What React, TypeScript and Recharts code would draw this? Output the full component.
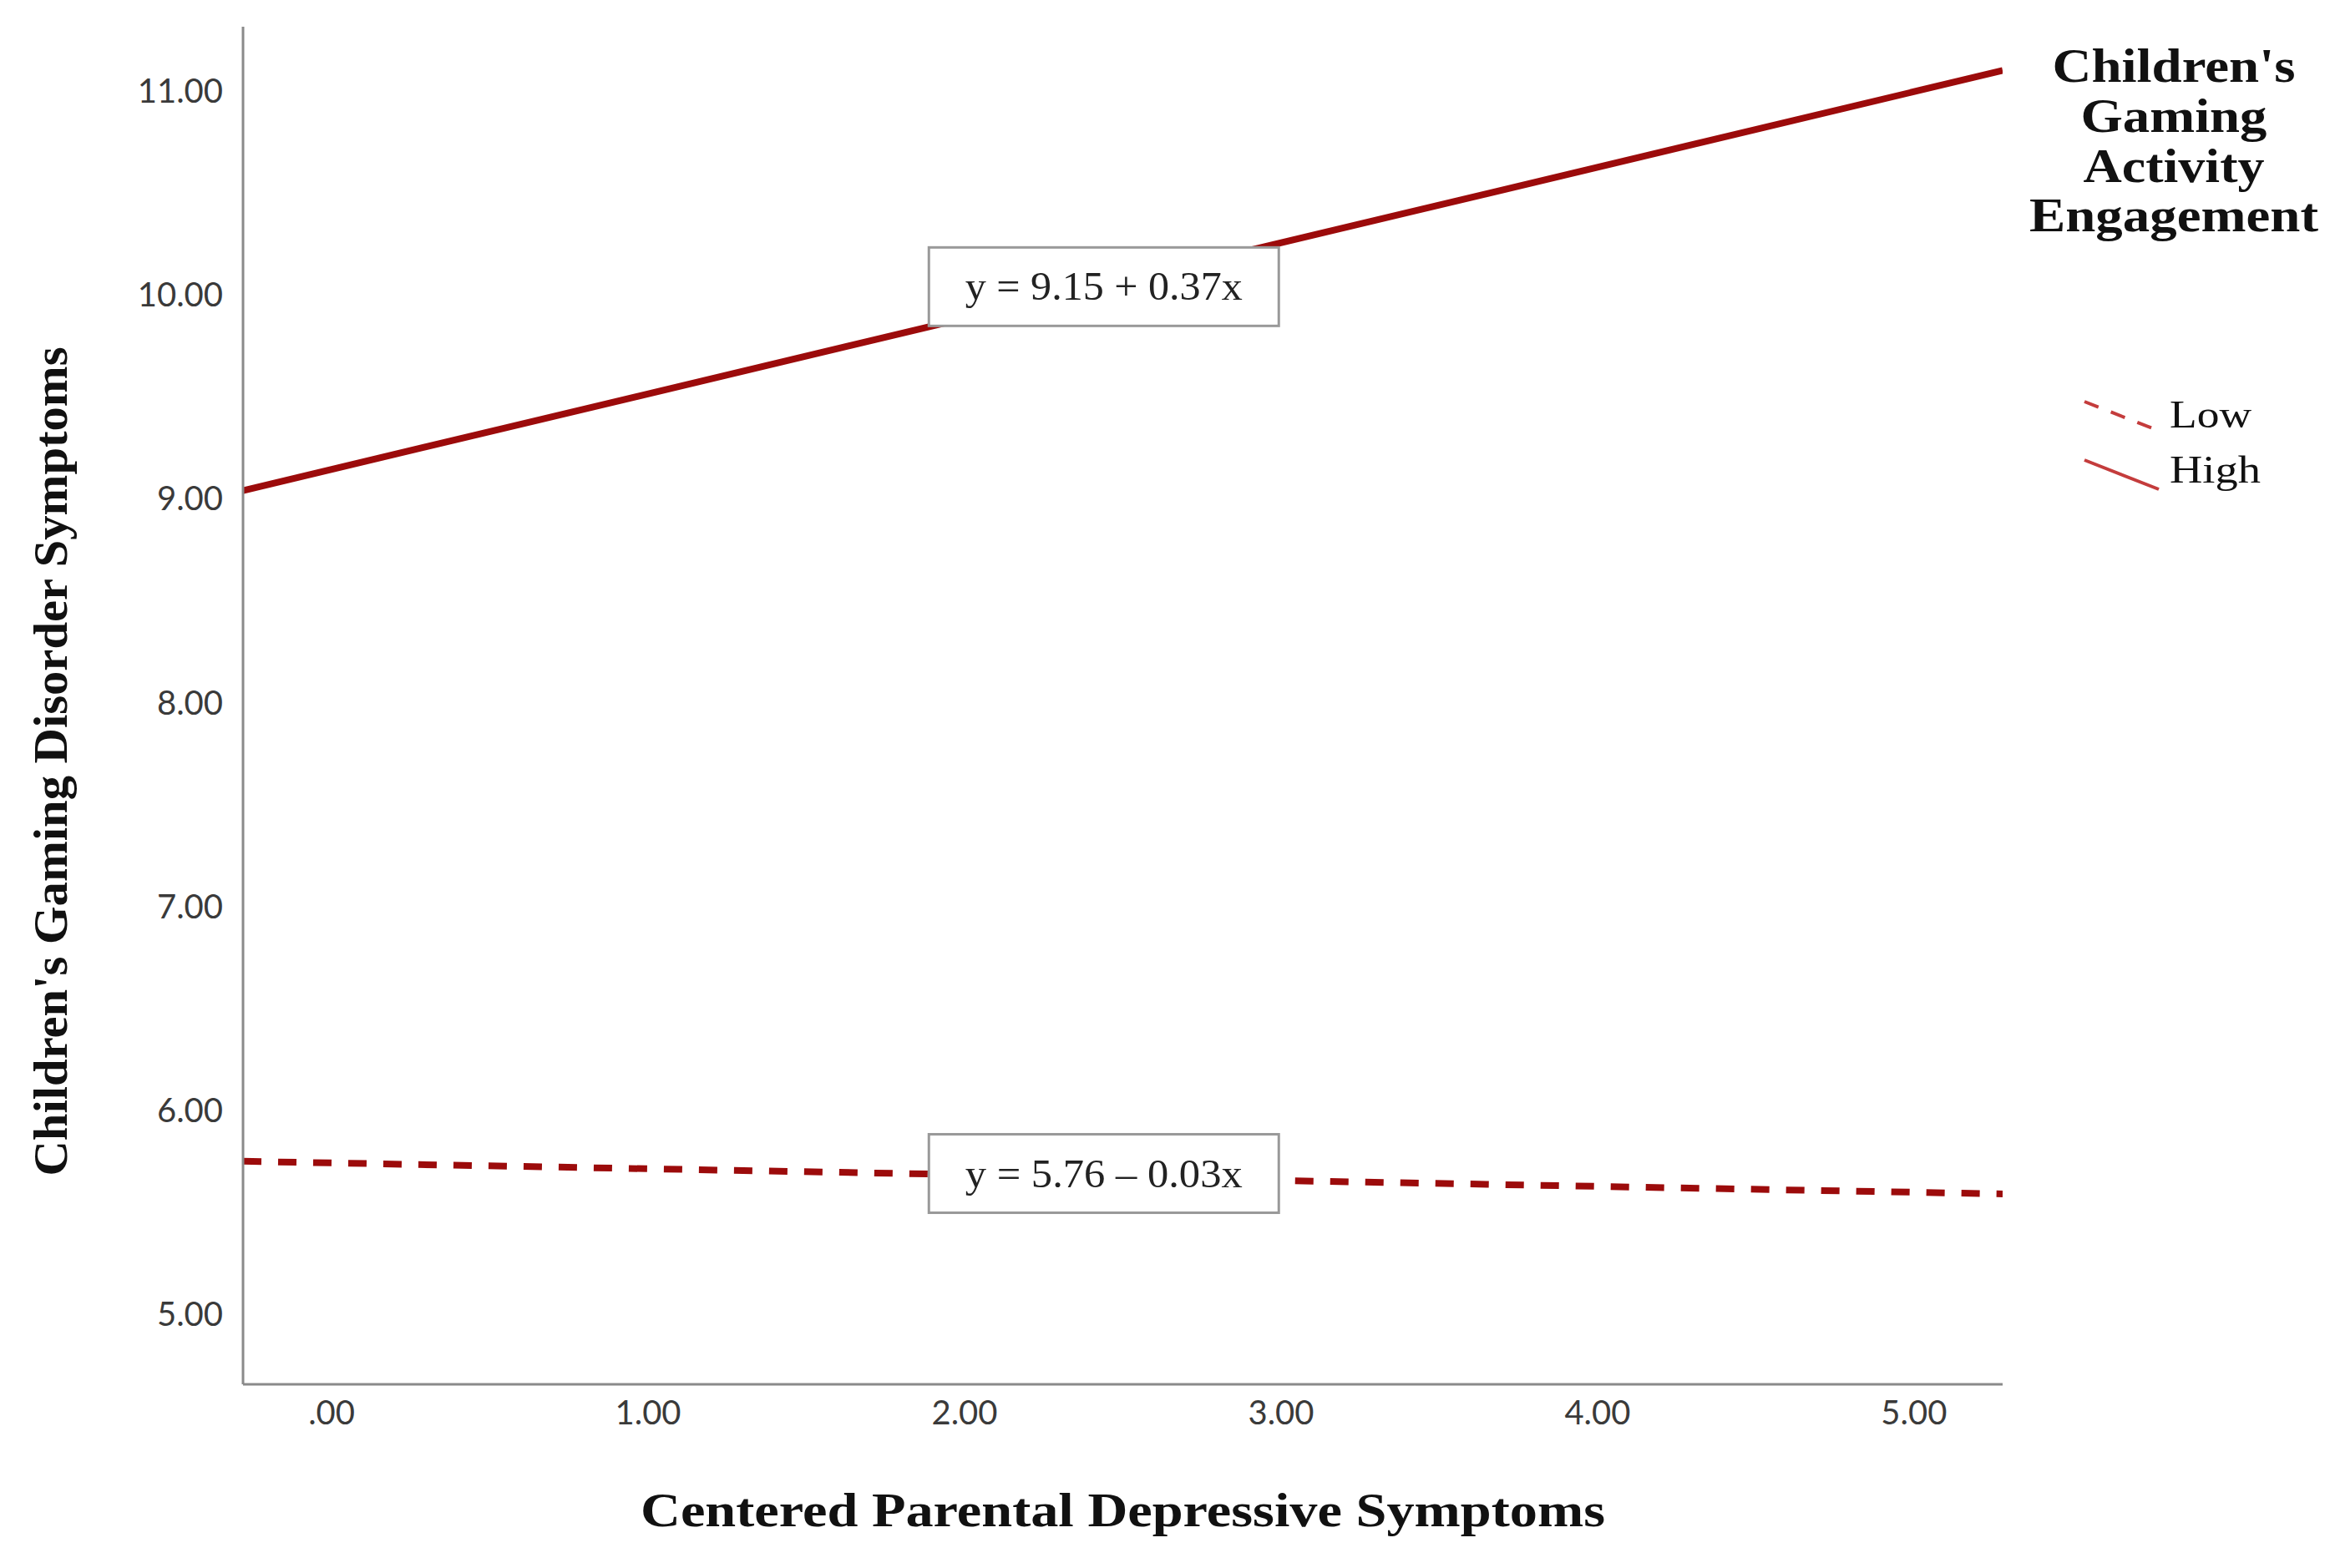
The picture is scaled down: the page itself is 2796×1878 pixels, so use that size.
import React from 'react';
import { ComposedChart, Line, XAxis, YAxis, ReferenceDot, Legend, Label } from 'recharts';

// ---- data ----
const xValues = [-0.28, 5.28];
const lowValues = [5.75, 5.59];
const highValues = [9.04, 11.1];
const seriesNames = ['Low', 'High'];
const xTicks = [0, 1, 2, 3, 4, 5];
const yTicks = [5, 6, 7, 8, 9, 10, 11];
const xDomain = [-0.28, 5.28];
const yDomain = [4.656, 11.315];
const eqLabels = ['y = 9.15 + 0.37x', 'y = 5.76 \u2013 0.03x'];
const eqX = [2.44, 2.44];
const eqY = [10.04, 5.69];
const legendTitleLines = ["Children's", 'Gaming', 'Activity', 'Engagement'];
const xTitle = 'Centered Parental Depressive Symptoms';
const yTitle = "Children's Gaming Disorder Symptoms";

const data = xValues.map((x, i) => ({ x, low: lowValues[i], high: highValues[i] }));

const LINE = '#9c0b0b';
const LEG = '#c43c3c';
const SERIF = '"Liberation Serif", "DejaVu Serif", serif';
const SANS = 'Lato, "Open Sans", sans-serif';

const titleWidths = [291, 223, 217, 346];
const titleBaselines = [98, 158, 218, 277];

const renderLegend = (props: any) => {
  const payload = [...(props.payload || [])].sort(
    (a: any, b: any) => seriesNames.indexOf(a.value) - seriesNames.indexOf(b.value)
  );
  return (
    <svg width={396} height={620} style={{ display: 'block' }}>
      {legendTitleLines.map((t, i) => (
        <text key={t} x={203} y={titleBaselines[i]} textAnchor="middle" fontFamily={SERIF} fontWeight="bold" fontSize={56} fill="#111" textLength={titleWidths[i]} lengthAdjust="spacingAndGlyphs">{t}</text>
      ))}
      {payload.map((entry: any, i: number) => {
        const y0 = 481 + i * 70;
        const dashed = entry.payload && entry.payload.strokeDasharray;
        return (
          <g key={entry.value}>
            <line x1={96} y1={y0} x2={185} y2={y0 + 35} stroke={LEG} strokeWidth={4} strokeDasharray={dashed ? '18 16' : undefined} />
            <text x={198} y={512 + i * 66} fontFamily={SERIF} fontSize={46} fill="#111" textLength={i === 0 ? 98 : 109} lengthAdjust="spacingAndGlyphs">{entry.value}</text>
          </g>
        );
      })}
    </svg>
  );
};

const EqBox = (label: string) => (props: any) => {
  const { cx, cy } = props;
  const w = 419;
  const h = 94;
  return (
    <g>
      <rect x={cx - w / 2} y={cy - h / 2} width={w} height={h} fill="#fff" stroke="#999" strokeWidth={3} />
      <text x={cx} y={cy + 16} textAnchor="middle" fontFamily={SERIF} fontSize={48} fill="#222" textLength={332} lengthAdjust="spacingAndGlyphs">{label}</text>
    </g>
  );
};

export default function App() {
  return (
    <div style={{ position: 'absolute', left: 0, top: 0, width: 2796, height: 1878, background: '#fff' }}>
      <ComposedChart width={2796} height={1878} data={data} margin={{ top: 32, right: 398, bottom: 100, left: 0 }}>
        <XAxis
          dataKey="x"
          type="number"
          domain={xDomain}
          ticks={xTicks}
          allowDataOverflow
          tickFormatter={(v: number) => (v === 0 ? '.00' : v.toFixed(2))}
          tick={{ fontFamily: SANS, fontSize: 40, fill: '#3a3a3a' }}
          tickLine={false}
          tickSize={0}
          tickMargin={20}
          height={120}
          axisLine={{ stroke: '#8a8a8a', strokeWidth: 3 }}
        >
          <Label
            content={(p: any) => {
              const vb = p.viewBox || {};
              return (
                <text x={vb.x + vb.width / 2} y={1828} textAnchor="middle" fontFamily={SERIF} fontWeight="bold" fontSize={56} fill="#111" textLength={1155} lengthAdjust="spacingAndGlyphs">{xTitle}</text>
              );
            }}
          />
        </XAxis>
        <YAxis
          type="number"
          domain={yDomain}
          ticks={yTicks}
          allowDataOverflow
          tickFormatter={(v: number) => v.toFixed(2)}
          tick={{ fontFamily: SANS, fontSize: 40, fill: '#3a3a3a' }}
          tickLine={false}
          tickSize={0}
          tickMargin={24}
          width={291}
          axisLine={{ stroke: '#8a8a8a', strokeWidth: 3 }}
        >
          <Label
            content={() => (
              <text x={80} y={912} transform="rotate(-90, 80, 912)" textAnchor="middle" fontFamily={SERIF} fontWeight="bold" fontSize={56} fill="#111" textLength={993} lengthAdjust="spacingAndGlyphs">{yTitle}</text>
            )}
          />
        </YAxis>
        <Legend
          layout="horizontal"
          verticalAlign="middle"
          align="center"
          content={renderLegend}
          wrapperStyle={{ left: 2400, top: 0, width: 396, height: 620 }}
        />
        <Line name={seriesNames[0]} dataKey="low" stroke={LINE} strokeWidth={8} strokeDasharray="22 20" dot={false} activeDot={false} isAnimationActive={false} />
        <Line name={seriesNames[1]} dataKey="high" stroke={LINE} strokeWidth={8} dot={false} activeDot={false} isAnimationActive={false} />
        {eqLabels.map((l, i) => (
          <ReferenceDot key={l} x={eqX[i]} y={eqY[i]} r={1} shape={EqBox(l)} ifOverflow="visible" />
        ))}
      </ComposedChart>
    </div>
  );
}
